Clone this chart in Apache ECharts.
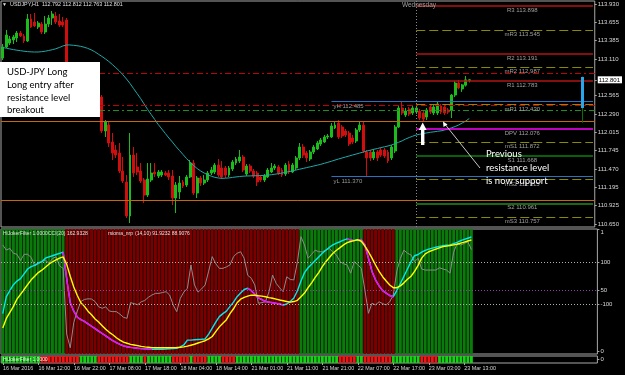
<!DOCTYPE html>
<html><head><meta charset="utf-8">
<script src="https://cdn.jsdelivr.net/npm/echarts@6/dist/echarts.min.js"></script>
<style>html,body{margin:0;padding:0;background:#000;}#c{width:625px;height:375px;}</style>
</head><body><div id="c"></div>
<script>
// ---------- DATA ----------
const tickLabels = ['16 Mar 2016','16 Mar 12:00','16 Mar 22:00','17 Mar 08:00','17 Mar 18:00','18 Mar 04:00','18 Mar 14:00','21 Mar 01:00','21 Mar 11:00','21 Mar 21:00','22 Mar 07:00','22 Mar 17:00','23 Mar 03:00','23 Mar 13:00'];
// [open, close, low, high]
const candles = [
[113.126,113.290,113.096,113.334],[113.290,113.468,113.275,113.543],[113.349,113.409,113.319,113.454],[113.394,113.439,113.334,113.468],[113.424,113.498,113.364,113.528],
[113.498,113.454,113.439,113.528],[113.454,113.379,113.349,113.483],[113.379,113.707,113.364,113.781],[113.707,113.588,113.573,113.781],[113.662,113.603,113.588,113.796],
[113.588,113.647,113.558,113.677],[113.632,113.513,113.483,113.662],[113.513,113.632,113.483,113.752],[113.632,113.722,113.588,113.766],[113.722,113.781,113.617,113.826],
[113.752,113.662,113.632,113.811],[113.677,113.617,113.588,113.781],[113.662,113.617,113.588,113.737],[113.692,112.947,112.917,113.722],[112.947,112.798,112.738,113.007],
[112.798,112.887,112.768,112.917],[112.872,112.679,112.649,112.902],[112.679,112.738,112.649,112.768],[112.738,112.574,112.545,112.768],[112.574,112.649,112.545,112.679],
[112.649,112.500,112.470,112.679],[112.500,112.589,112.455,112.619],[112.589,112.530,112.440,112.634],[112.545,112.038,112.008,112.574],[112.038,112.172,111.949,112.202],
[112.127,111.859,111.800,112.187],[111.874,111.710,111.606,112.008],[111.755,111.680,111.636,111.829],[111.710,111.442,111.412,111.859],[111.442,111.293,111.263,111.651],
[111.278,110.772,110.742,111.382],[110.772,111.680,110.667,112.008],[111.680,111.412,111.353,111.800],[111.502,111.427,111.382,111.710],[111.442,111.293,111.263,111.561],
[111.308,111.084,110.965,111.338],[111.084,111.323,111.055,111.561],[111.308,111.412,111.278,111.561],[111.427,111.397,111.353,111.561],[111.368,111.427,111.338,111.457],
[111.382,111.427,111.353,111.457],[111.412,111.382,111.368,111.442],[111.412,111.353,111.308,111.457],[111.368,111.040,110.935,111.457],[111.040,111.233,110.816,111.278],
[111.129,111.263,111.025,111.368],[111.278,111.219,111.189,111.308],[111.233,111.353,111.204,111.382],[111.353,111.561,111.338,111.606],[111.561,111.114,111.084,111.606],
[111.114,111.338,111.040,111.368],[111.338,111.263,111.219,111.368],[111.263,111.308,111.233,111.382],[111.308,111.412,111.278,111.442],[111.412,111.457,111.382,111.502],
[111.427,111.531,111.397,111.561],[111.531,111.382,111.353,111.621],[111.487,111.353,111.323,111.591],[111.487,111.382,111.338,111.517],[111.382,111.487,111.353,111.517],
[111.472,111.576,111.442,111.606],[111.561,111.621,111.531,111.651],[111.591,111.651,111.561,111.755],[111.651,111.457,111.427,111.680],[111.397,111.517,111.368,111.546],
[111.517,111.442,111.412,111.546],[111.442,111.368,111.338,111.472],[111.412,111.278,111.219,111.442],[111.353,111.308,111.278,111.382],[111.308,111.368,111.278,111.397],
[111.353,111.457,111.338,111.487],[111.427,111.487,111.412,111.561],[111.487,111.517,111.457,111.546],[111.502,111.412,111.382,111.531],[111.457,111.382,111.353,111.487],
[111.397,111.531,111.368,111.561],[111.546,111.427,111.397,111.591],[111.427,111.531,111.412,111.561],[111.487,111.636,111.457,111.666],[111.636,111.800,111.606,111.859],
[111.800,111.680,111.636,111.844],[111.710,111.636,111.576,111.740],[111.621,111.725,111.591,111.755],[111.725,111.800,111.695,111.829],[111.770,111.859,111.755,111.889],
[111.844,111.904,111.815,111.934],[111.874,111.949,111.859,111.978],[111.949,111.964,111.919,111.993],[111.949,112.113,111.934,112.157],[112.083,112.127,112.068,112.172],
[112.157,111.949,111.919,112.202],[112.098,111.964,111.934,112.127],[112.038,111.978,111.949,112.068],[112.008,111.844,111.815,112.038],[111.934,111.874,111.844,111.978],
[111.889,112.053,111.859,112.083],[112.053,112.127,112.023,112.187],[112.127,111.740,111.710,112.187],[111.725,111.636,111.370,111.755],[111.725,111.636,111.591,111.755],
[111.636,111.725,111.606,111.770],[111.725,111.636,111.591,111.755],[111.755,111.680,111.651,111.785],[111.755,111.666,111.636,111.785],[111.725,111.591,111.561,111.755],
[111.636,111.800,111.606,111.829],[111.740,112.098,111.710,112.127],[112.098,112.381,112.083,112.425],[112.381,112.306,112.276,112.485],[112.276,112.336,112.247,112.381],
[112.366,112.291,112.262,112.396],[112.306,112.381,112.276,112.411],[112.321,112.381,112.291,112.411],[112.336,112.232,112.202,112.366],[112.306,112.217,112.187,112.336],
[112.247,112.351,112.202,112.381],[112.396,112.321,112.291,112.425],[112.306,112.396,112.276,112.425],[112.306,112.440,112.276,112.470],[112.411,112.321,112.291,112.440],
[112.396,112.306,112.276,112.425],[112.351,112.321,112.291,112.381],[112.351,112.574,112.232,112.589],[112.574,112.753,112.545,112.783],[112.753,112.680,112.660,112.798],
[112.665,112.725,112.620,112.740],[112.720,112.800,112.700,112.858],[112.792,112.801,112.763,112.812]
];
const maLine = [
113.282,113.272,113.261,113.251,113.242,113.235,113.227,113.221,113.217,113.215,
113.215,113.220,113.227,113.238,113.249,113.263,113.282,113.305,113.320,113.320,
113.315,113.309,113.300,113.287,113.270,113.248,113.220,113.185,113.151,113.114,
113.074,113.029,112.981,112.932,112.875,112.813,112.746,112.671,112.597,112.522,
112.440,112.358,112.284,112.209,112.135,112.068,112.001,111.934,111.874,111.807,
111.748,111.688,111.628,111.576,111.524,111.479,111.442,111.412,111.385,111.365,
111.348,111.338,111.333,111.335,111.339,111.347,111.354,111.360,111.365,111.368,
111.369,111.371,111.372,111.374,111.377,111.381,111.387,111.394,111.403,111.412,
111.423,111.433,111.445,111.457,111.469,111.481,111.493,111.505,111.517,111.529,
111.542,111.557,111.572,111.588,111.605,111.621,111.636,111.651,111.666,111.681,
111.695,111.710,111.725,111.740,111.752,111.766,111.777,111.791,111.803,111.815,
111.830,111.849,111.870,111.892,111.919,111.941,111.961,111.979,111.990,112.001,
112.010,112.019,112.026,112.034,112.041,112.053,112.068,112.086,112.105,112.128,
112.157,112.187,112.224];
const cciValues = [
184,160,168,145,140,110,140,140,125,85,
95,105,112,98,120,128,85,73,-240,-305,
-185,-130,-85,-75,-72,-73,-85,-110,-117,-110,
-130,-133,-133,-145,-160,-165,-90,-95,-100,-86,
-80,-65,-54,-46,-46,-42,-38,-54,-101,-133,
-70,-40,-22,89,-6,-40,-25,-6,60,129,
95,73,73,80,89,129,145,152,121,40,
26,-6,-93,-90,-86,-38,41,2,-20,-38,
33,20,18,105,224,184,121,140,160,152,
152,160,168,150,137,105,95,89,50,105,
90,73,-30,-141,-93,-101,-86,-95,-101,-86,
-54,60,121,160,145,137,105,121,70,65,
65,65,65,76,70,65,50,150,192,184,
192,200,163];
const rsiValues = [
31,45,50,55,58,60,64,68,70,71,
73,74,77,78,79,80,81,82,60,40,
33,28,26,24.5,22.5,20.5,18.5,16.5,14.5,12.5,
10.5,8.5,7,5.5,4.2,3.5,3,2.7,2.3,2,
1.8,1.6,1.5,1.5,1.5,1.5,1.6,1.8,2,2.2,
3.5,5,9,9,9.3,9.5,9.7,10,14,19,
24,28.5,31,33,37,40.5,45,48,51,52,
50,47,44,42.5,41,40.5,40,39.5,39,38,
39,41,44,50,58,65,69,72,75,78,
81,83.5,86,88,89.5,90.6,92,93,92,91.5,
92.3,92,88,77,66,59,54,50,48,46,
45,50,56,62,68,74,79,80,82,83.5,
84.5,85.3,86,86.7,87.3,87.7,88,89,90,91.5,
92.5,93.5,94.5];
const rsiSignal = [
19,27,32,37,43,47,51,55,59,62,
65,67,69.5,72,74,75.5,77,78,72,62,
53,46,40,37,33,30,26.5,24,21,18,
15.5,13.5,11,9,7.3,6.4,5.5,5,4.5,3.8,
3.4,3.1,2.8,2.7,2.7,2.7,2.7,2.7,2.8,2.9,
3.1,3.4,4,4.8,5.6,6.6,7.5,8.5,10,12,
16,20,23,26,31,35,40,43,44.5,45.5,
46.3,46.2,45.8,45.5,45,44.3,43.7,43,42.3,41.7,
41,40.5,41,42,45,48,52.5,56.5,61,65,
70,74,77.5,81,83.5,85.7,88,89.8,90.8,91.5,
92.2,91,87,82.3,77,71.3,66,61.6,58,54.7,
52.5,52.5,54,56.5,59.5,62,66,71,77,80.5,
82.3,83.5,84.5,85.5,86.5,87,87.5,88,88.5,89.5,
90.3,91.2,92];
const jokerTrend = [
1,1,1,1,1,1,1,1,1,1, 1,1,1,1,1,1,1,1,0,0, 0,0,0,0,0,0,0,0,0,0, 0,0,0,0,0,0,0,0,0,0,
0,0,0,0,0,0,0,0,0,0, 0,0,0,0,0,0,0,0,0,0, 0,0,0,0,0,0,0,0,0,0, 0,0,0,0,0,0,0,0,0,0,
0,0,0,0,1,1,1,1,1,1, 1,1,1,1,1,1,1,1,1,1, 1,1,0,0,0,0,0,0,0,0, 0,1,1,1,1,1,1,1,1,1,
1,1,1,1,1,1,1,1,1,1, 1,1,1];
const jokerSignal = [
1,1,1,1,1,1,1,1,1,1, 1,0,0,0,0,0,0,0,0,0, 0,0,1,1,1,1,1,0,0,0, 0,0,0,0,0,0,1,1,1,1,
0,1,1,1,1,1,1,1,0,0, 0,0,0,1,0,0,0,0,1,1, 1,1,0,0,0,0,1,1,1,1, 1,1,1,1,1,1,1,1,1,1,
1,1,1,1,1,1,1,1,1,1, 1,1,1,1,1,0,0,0,0,0, 1,1,0,0,0,0,0,0,0,0, 1,1,1,1,1,1,1,1,0,0,
0,0,0,1,1,1,1,1,1,1, 1,1,1];
const pivotNames = ['R3','mR3','R2','mR2','R1','mR1','DPV','mS1','S1','mS2','S2','mS3'];
const pivotValues = [113.898,113.545,113.191,112.987,112.783,112.430,112.076,111.872,111.668,111.315,110.961,110.757];
const levelValues = [112.898,112.421,112.347,112.187,111.010];
const levelKinds = ['red','red','green','orange','orange'];
const yesterdayHigh = 112.485, yesterdayLow = 111.370;
const priceTicks = [113.930,113.655,113.385,113.110,112.565,112.290,112.015,111.745,111.470,111.195,110.925,110.650];
const currentPrice = 112.801;
const rangeBar = [112.843,112.381];
const rangeStem = [112.850,112.160];
const cciTicks = [100,-100], rsiTicks = [50,0];

// ---------- LAYOUT ----------
const TOTAL = 168, dayStart = 117, yesterdayStart = 93, rangeIndex = 164, pivotLabelIndex = 147;
const F = '"Liberation Sans", Arial, sans-serif';
const cats = Array.from({length: TOTAL}, (_, i) => String(i));
const chart = echarts.init(document.getElementById('c'), null, {renderer: 'canvas'});
const small = {fontFamily: F, fontSize: 6, color: '#d8d8d8'};

const levelStyle = {
  red: {color: '#c40000', type: [6,3,2,3], width: 1},
  green: {color: '#1f8f1f', type: [6,3,2,3], width: 1},
  orange: {color: '#c8660c', type: 'solid', width: 1}
};
function pivotStyle(n) {
  if (n[0] === 'm') return {color: '#8a8a00', type: [9,4], width: 1};
  if (n[0] === 'R') return {color: '#b01414', type: 'solid', width: 1.5};
  if (n === 'S1') return {color: '#0b5e0b', type: 'solid', width: 2};
  if (n[0] === 'S') return {color: '#1e8c1e', type: 'solid', width: 1.5};
  return {color: '#ff00ff', type: 'solid', width: 1.5};
}
const ml = [];
levelValues.forEach((v, i) => ml.push({yAxis: v, lineStyle: levelStyle[levelKinds[i]]}));
ml.push({xAxis: dayStart, lineStyle: {color: '#8a8a8a', type: [1,2], width: 1}});
pivotValues.forEach((v, i) => ml.push([{coord: [dayStart, v], lineStyle: pivotStyle(pivotNames[i])}, {coord: [TOTAL - 1, v]}]));
[['yH', yesterdayHigh], ['yL', yesterdayLow]].forEach(([n, v]) => ml.push([
  {coord: [yesterdayStart, v], lineStyle: {color: '#2a72c0', width: 1.2, type: 'solid'},
   label: {show: true, position: 'insideStartBottom', distance: 2, formatter: n + ' ' + v.toFixed(3), color: '#9a9a9a', fontSize: 6, fontFamily: F}},
  {coord: [TOTAL - 1, v]}]));
ml.push([{coord: [rangeIndex, rangeStem[0]], lineStyle: {color: '#0a6e0a', width: 1, type: 'solid'}}, {coord: [rangeIndex, rangeStem[1]]}]);
ml.push([{coord: [rangeIndex, rangeBar[0]], lineStyle: {color: '#2aa5ea', width: 3, type: 'solid'}}, {coord: [rangeIndex, rangeBar[1]]}]);

const rsiDown = [];
let run = false;
for (let i = 1; i < rsiValues.length; i++) {
  if (rsiValues[i] < rsiValues[i - 1]) {
    if (!run) rsiDown.push([i - 1, rsiValues[i - 1]]);
    rsiDown.push([i, rsiValues[i]]); run = true;
  } else if (run) { rsiDown.push([i, null]); run = false; }
}

const gridBase = {left: 1, width: 596.4, show: true, borderColor: '#a8a8a8', borderWidth: 1, backgroundColor: 'transparent'};
const xBase = {type: 'category', data: cats, boundaryGap: true, axisLine: {show: false}, axisTick: {show: false}, axisLabel: {show: false}, splitLine: {show: false}};
const yBase = {type: 'value', position: 'right', splitLine: {show: false}, axisLine: {show: false}, scale: false};
function tickAxis(extra, values, fmt, labelExtra) {
  return Object.assign({}, yBase, extra, {
    axisTick: {show: true, length: 2, customValues: values, lineStyle: {color: '#a8a8a8'}},
    axisLabel: Object.assign({show: true, customValues: values, margin: 3, formatter: fmt}, small, labelExtra || {})
  });
}
const T = (x, y, text, o) => Object.assign({type: 'text', x: x, y: y, z: 100,
  style: Object.assign({text: text, fill: '#e0e0e0', font: '5.4px ' + F, verticalAlign: 'middle'}, o || {})});
const T5 = {font: '5px ' + F};

const option = {
  animation: false,
  backgroundColor: '#000',
  textStyle: {fontFamily: F},
  grid: [
    Object.assign({top: 1, height: 226}, gridBase),
    Object.assign({top: 229, height: 125}, gridBase),
    Object.assign({top: 356, height: 7}, gridBase)
  ],
  xAxis: [
    Object.assign({}, xBase, {gridIndex: 0}),
    Object.assign({}, xBase, {gridIndex: 1}),
    Object.assign({}, xBase, {gridIndex: 2,
      axisTick: {show: true, length: 2, alignWithLabel: true, interval: (i) => i % 10 === 0 && i / 10 < tickLabels.length, lineStyle: {color: '#a8a8a8'}},
      axisLabel: Object.assign({show: true, align: 'left', margin: 3, interval: (i) => i % 10 === 0 && i / 10 < tickLabels.length,
        hideOverlap: false, formatter: (v, i) => tickLabels[i / 10] || ''}, small, {fontSize: 5.4})})
  ],
  yAxis: [
    tickAxis({gridIndex: 0, min: 110.608, max: 113.975}, priceTicks.concat([currentPrice]),
      (v) => Math.abs(v - currentPrice) < 1e-6 ? '{cur|' + v.toFixed(3) + '}' : v.toFixed(3),
      {rich: {cur: {backgroundColor: '#ffffff', color: '#000000', fontSize: 6, fontFamily: F, padding: [1, 2, 0, 1]}}}),
    tickAxis({gridIndex: 1, min: -334.76, max: 260.48}, cciTicks, (v) => String(v)),
    tickAxis({gridIndex: 1, min: -2.49, max: 101.16}, rsiTicks, (v) => String(v)),
    tickAxis({gridIndex: 1, min: 0, max: 1}, [1], () => '1', {verticalAlign: 'top'}),
    tickAxis({gridIndex: 2, min: 0, max: 1}, [0.5], () => '0')
  ],
  series: [
    {type: 'candlestick', xAxisIndex: 0, yAxisIndex: 0, data: candles, barWidth: 2.4, silent: true,
     itemStyle: {color: '#1cbc1c', color0: '#d00e0e', borderColor: '#1cbc1c', borderColor0: '#d00e0e', borderWidth: 1}},
    {type: 'line', xAxisIndex: 0, yAxisIndex: 0, data: maLine, showSymbol: false, silent: true,
     lineStyle: {color: '#1fa9a9', width: 1},
     markLine: {silent: true, symbol: ['none', 'none'], label: {show: false}, data: ml},
     markPoint: {silent: true, symbol: 'circle', symbolSize: 1, itemStyle: {color: 'rgba(0,0,0,0)'},
       data: pivotValues.map((v, i) => ({coord: [pivotLabelIndex, v],
         label: {show: true, position: 'bottom', distance: 1, formatter: pivotNames[i] + ' ' + v.toFixed(3), color: '#a0a0a0', fontSize: 6, fontFamily: F}}))}},
    {type: 'bar', xAxisIndex: 1, yAxisIndex: 3, barWidth: '82%', silent: true,
     data: jokerTrend.map(t => ({value: 1, itemStyle: {color: t ? '#0a7a0a' : '#7a0000'}}))},
    {type: 'line', xAxisIndex: 1, yAxisIndex: 1, data: cciValues, showSymbol: false, silent: true,
     lineStyle: {color: '#8c8c8c', width: 1},
     markLine: {silent: true, symbol: ['none', 'none'], label: {show: false},
       data: cciTicks.map(v => ({yAxis: v})), lineStyle: {color: '#b0b0b0', type: [1, 2], width: 1}}},
    {type: 'line', xAxisIndex: 1, yAxisIndex: 2, data: rsiValues, showSymbol: false, silent: true,
     lineStyle: {color: '#00e8f2', width: 1.4},
     markLine: {silent: true, symbol: ['none', 'none'], label: {show: false},
       data: [{yAxis: 50}], lineStyle: {color: '#9040a8', type: [1, 2], width: 1}}},
    {type: 'line', xAxisIndex: 1, yAxisIndex: 2, data: rsiDown, showSymbol: false, silent: true, connectNulls: false,
     lineStyle: {color: '#ff00ff', width: 1.4}},
    {type: 'line', xAxisIndex: 1, yAxisIndex: 2, data: rsiSignal, showSymbol: false, silent: true,
     lineStyle: {color: '#ffff00', width: 1.4}},
    {type: 'bar', xAxisIndex: 2, yAxisIndex: 4, barWidth: '80%', silent: true,
     data: jokerSignal.map(t => ({value: 1, itemStyle: {color: t ? '#14d214' : '#f01414'}}))}
  ],
  graphic: [
    T(2, 5, '\u25BC', {font: '5px ' + F}),
    T(10, 5, 'USDJPY,H1  112.792 112.812 112.763 112.801'),
    T(419, 5, 'Wednesday', {fill: '#a0a0a0', font: '6.5px ' + F, align: 'center'}),
    T(3, 234, 'HiJokerFilter 1.0000', T5),
    T(48, 234, 'CCI(20) 162.9328', T5),
    T(108, 234, 'rsioma_nrp', T5),
    T(135, 234, '(14,10) 91.9232 88.9076', T5),
    T(3, 359.5, 'HiJokerFilter 1.0000', {fill: '#f0f0f0', font: '5px ' + F}),
    {type: 'rect', z: 100, shape: {x: 0, y: 62, width: 100, height: 55}, style: {fill: '#ffffff'}},
    T(7, 72, 'USD-JPY Long', {fill: '#000', font: '9.5px Lato'}),
    T(7, 85, 'Long entry after', {fill: '#000', font: '9.5px Lato'}),
    T(7, 97.5, 'resistance level', {fill: '#000', font: '9.5px Lato'}),
    T(7, 110, 'breakout', {fill: '#000', font: '9.5px Lato'}),
    T(486, 154, 'Previous', {fill: '#fff', font: '9.5px Lato'}),
    T(486, 167.5, 'resistance level', {fill: '#fff', font: '9.5px Lato'}),
    T(486, 181, 'is now support', {fill: '#fff', font: '9.5px Lato'}),
    {type: 'polyline', z: 101, shape: {points: [[480, 168], [444, 123]]}, style: {stroke: '#c8c8c8', lineWidth: 1}},
    {type: 'polygon', z: 101, shape: {points: [[443, 121.5], [443.5, 127], [447.5, 124.5]]}, style: {fill: '#ffffff'}},
    {type: 'rect', z: 101, shape: {x: 421, y: 128, width: 3.4, height: 17}, style: {fill: '#ffffff'}},
    {type: 'polygon', z: 101, shape: {points: [[418.8, 130], [426.6, 130], [422.7, 122.5]]}, style: {fill: '#ffffff'}}
  ]
};
chart.setOption(option);
</script></body></html>
